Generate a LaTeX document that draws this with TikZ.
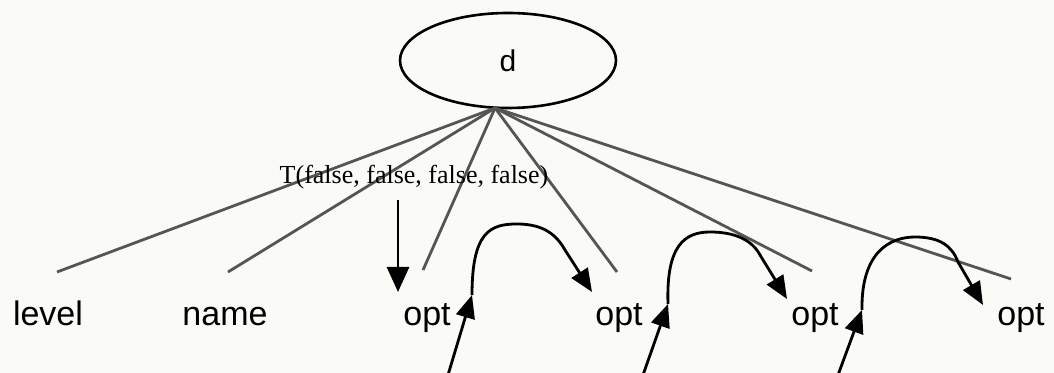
\documentclass[tikz,border=0pt]{standalone}
\usepackage{fontspec}
\setmainfont{Liberation Serif}
\setsansfont{Liberation Sans}
\usetikzlibrary{shapes.geometric,arrows.meta}
\definecolor{paper}{RGB}{250,250,247}
\definecolor{spoke}{RGB}{85,85,85}
\begin{document}
\begin{tikzpicture}[x=0.5pt,y=-0.5pt,
  spokeline/.style={draw=spoke,line width=1.4pt},
  flow/.style={draw=black,line width=1.4pt,-{Triangle[length=11.5pt,width=9.5pt]}},
  lbl/.style={font=\sffamily\fontsize{17}{20}\selectfont,anchor=base,inner sep=0pt}]
% page
\fill[paper] (0,0) rectangle (1054,373);
\useasboundingbox (0,0) rectangle (1054,373);

% root
\node[ellipse,draw,line width=1.3pt,minimum width=108pt,minimum height=47.5pt,
      inner sep=0pt,font=\sffamily\fontsize{15}{17}\selectfont] (d) at (508,60.5) {d};

% children
\node[lbl] (level) at (48,326)  {level};
\node[lbl] (name)  at (225,326) {name};
\node[lbl] (opt1)  at (427,326) {opt};
\node[lbl] (opt2)  at (619,326) {opt};
\node[lbl] (opt3)  at (815,326) {opt};
\node[lbl] (opt4)  at (1021,326) {opt};

% spokes from the root
\coordinate (apex) at (495,108);
\coordinate (e1) at (57,272);
\coordinate (e2) at (228,272);
\coordinate (e3) at (423,270);
\coordinate (e4) at (617,272);
\coordinate (e5) at (812,271);
\coordinate (e6) at (1011,279);
\foreach \e in {e1,e2,e3,e4,e5,e6}
  \draw[spokeline] (apex) -- (\e);

% type annotation and its arrow
\node[font=\fontsize{13}{15}\selectfont,anchor=base,inner sep=0pt] (tval) at (414,184)
  {T(false, false, false, false)};
\coordinate (ts) at (398,200);
\coordinate (tt) at (398,292);
\draw[draw=black,line width=1.4pt,-{Triangle[length=12.5pt,width=11pt]}] (ts) -- (tt);

% incoming arrows
\coordinate (b1) at (448,375);
\coordinate (b2) at (643,375);
\coordinate (b3) at (838,375);
\coordinate (t1) at (472,295);
\coordinate (t2) at (668,304);
\coordinate (t3) at (862,310);
\draw[flow] (b1) -- (t1);
\draw[flow] (b2) -- (t2);
\draw[flow] (b3) -- (t3);

% hooks to the next option
\coordinate (c1) at (592,292);
\coordinate (c2) at (787,299);
\coordinate (c3) at (983,305);
\draw[flow] (t1) .. controls (472,232) and (490,224) .. (517,224)
  .. controls (545,224) and (557,236) .. (565,250) -- (c1);
\draw[flow] (t2) .. controls (666,245) and (685,232) .. (710,232)
  .. controls (735,232) and (752,240) .. (760,255) -- (c2);
\draw[flow] (t3) .. controls (861,252) and (890,237) .. (915,237)
  .. controls (940,237) and (952,246) .. (958,262) -- (c3);
\end{tikzpicture}
\end{document}
